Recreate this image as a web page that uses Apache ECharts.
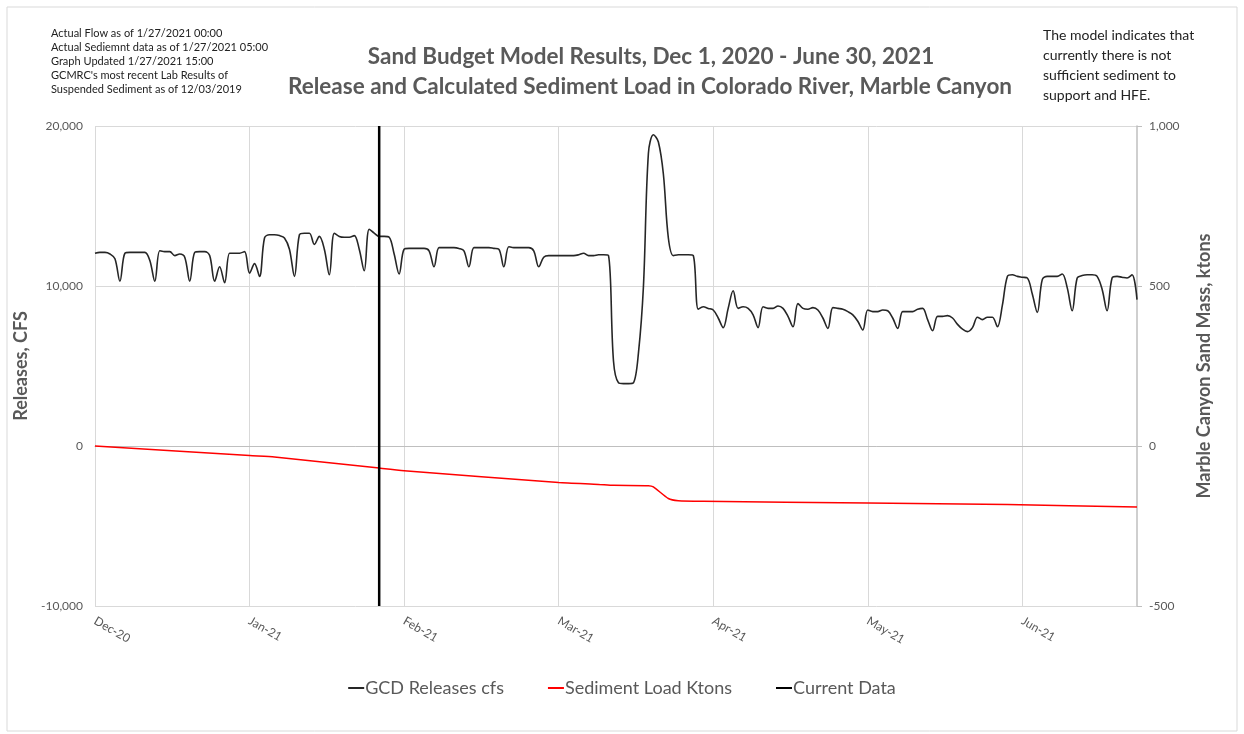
<!DOCTYPE html>
<html>
<head>
<meta charset="utf-8">
<title>Sand Budget Model Results</title>
<script src="https://cdn.jsdelivr.net/npm/echarts/dist/echarts.min.js"></script>
<style>
  html, body { margin: 0; padding: 0; background: #fff; }
  #chart { width: 1244px; height: 734px; }
</style>
</head>
<body>
<div id="chart"></div>
<script>
// daily categories, Dec 1 2020 .. Jun 28 2021
var startDay = Date.UTC(2020, 11, 1)
var dayCount = 210
var dates = []
for (var i = 0; i < dayCount; i++) {
  dates.push(new Date(startDay + i * 86400000).toISOString().slice(0, 10))
}
var monthNames = ['Jan', 'Feb', 'Mar', 'Apr', 'May', 'Jun', 'Jul', 'Aug', 'Sep', 'Oct', 'Nov', 'Dec']

// GCD releases, cfs (one value per day)
var releases = [
  12050, 12100, 12100, 12000, 11700, 10300, 12050,
  12100, 12100, 12100, 12100, 11600, 10300, 12200,
  12150, 12150, 11900, 12000, 11800, 10300, 12100,
  12150, 12150, 11900, 10300, 11200, 10200, 12050,
  12050, 12050, 12150, 10800, 11400, 10600, 13000,
  13200, 13200, 13150, 13000, 12300, 10600, 13200,
  13300, 13300, 12600, 13100, 12300, 10700, 13300,
  13100, 13050, 13050, 13150, 12300, 10950, 13550,
  13300, 13100, 13100, 13050, 12000, 10750, 12300,
  12350, 12350, 12350, 12350, 12200, 11200, 12400,
  12400, 12400, 12400, 12350, 12200, 11200, 12400,
  12400, 12400, 12400, 12350, 12300, 11200, 12450,
  12400, 12400, 12400, 12400, 12200, 11200, 11800,
  11900, 11900, 11900, 11900, 11900, 11900, 11950,
  12050, 11900, 11900, 11950, 11950, 11900, 5300,
  3950, 3900, 3900, 3950, 5800, 9950, 18300,
  19450, 19000, 17000, 13000, 11900, 11950, 11950,
  11950, 11900, 8550, 8700, 8600, 8500, 8000,
  7400, 8600, 9700, 8600, 8700, 8600, 8200,
  7400, 8700, 8600, 8600, 8750, 8600, 8100,
  7450, 8900, 8600, 8550, 8650, 8500, 8000,
  7350, 8650, 8600, 8550, 8400, 8200, 7800,
  7250, 8500, 8400, 8400, 8500, 8450, 8000,
  7350, 8400, 8400, 8400, 8550, 8600, 7900,
  7200, 8100, 8100, 8150, 8000, 7600, 7300,
  7150, 7400, 8050, 7900, 8050, 8050, 7450,
  8800, 10600, 10700, 10600, 10550, 10500, 9500,
  8350, 10400, 10600, 10600, 10600, 10750, 9900,
  8450, 10500, 10650, 10700, 10700, 10600, 9800,
  8450, 10500, 10600, 10550, 10500, 10700, 9150
]

// sediment load, ktons (right axis)
var sedimentDates = ['2020-12-01', '2021-01-01', '2021-01-06', '2021-01-27', '2021-02-01', '2021-03-04',
  '2021-03-12', '2021-03-15', '2021-03-22', '2021-03-23', '2021-03-26', '2021-03-28', '2021-04-02',
  '2021-05-05', '2021-06-02', '2021-06-28']
var sedimentValues = [0, -30, -34, -69, -77, -114, -120, -123, -124, -128, -164, -171, -173, -178, -183, -191]

// current data marker
var currentDate = '2021-01-27'
var currentRange = [-10000, 20000]

var notesLeft = [
  'Actual Flow as of 1/27/2021 00:00',
  'Actual Sediemnt data as of 1/27/2021 05:00',
  'Graph Updated 1/27/2021 15:00',
  "GCMRC's most recent Lab Results of",
  'Suspended Sediment as of 12/03/2019'
]
var notesRight = [
  'The model indicates that',
  'currently there is not',
  'sufficient sediment to',
  'support and HFE.'
]

var font = 'Lato, "Open Sans", sans-serif'
var grey = '#595959'
var gridColor = '#d9d9d9'

function monthLabel(value) {
  var m = parseInt(value.slice(5, 7), 10)
  return monthNames[m - 1] + '-' + value.slice(2, 4)
}
function showTick(index) {
  return index % 31 === 0
}
function comma(v) {
  return v.toLocaleString('en-US')
}

var chart = echarts.init(document.getElementById('chart'))

var option = {
  backgroundColor: '#fff',
  animation: false,
  textStyle: { fontFamily: font },
  grid: { left: 95, right: 107, top: 126, bottom: 128, containLabel: false },
  legend: {
    bottom: 32,
    left: 'center',
    icon: 'rect',
    itemGap: 44,
    itemWidth: 16,
    itemHeight: 2,
    textStyle: { color: grey, fontSize: 18, fontFamily: font, padding: [0, 0, 0, -4] },
    data: ['GCD Releases cfs', 'Sediment Load Ktons', 'Current Data']
  },
  graphic: [
    {
      type: 'rect',
      shape: { x: 7, y: 7, width: 1230, height: 724 },
      style: { fill: 'none', stroke: '#d9d9d9', lineWidth: 1 },
      silent: true
    },
    {
      type: 'text',
      x: 651, y: 57,
      style: {
        text: 'Sand Budget Model Results, Dec 1, 2020 - June 30, 2021',
        textAlign: 'center', textVerticalAlign: 'middle',
        font: 'bold 22.5px ' + font, fill: grey
      }
    },
    {
      type: 'text',
      x: 650, y: 87,
      style: {
        text: 'Release and Calculated Sediment Load in Colorado River, Marble Canyon',
        textAlign: 'center', textVerticalAlign: 'middle',
        font: 'bold 22.5px ' + font, fill: grey
      }
    },
    {
      type: 'text',
      x: 51, y: 26,
      style: {
        text: notesLeft.join('\n'),
        lineHeight: 14.2,
        textVerticalAlign: 'top',
        font: '11px ' + font, fill: '#222'
      }
    },
    {
      type: 'text',
      x: 1043, y: 25,
      style: {
        text: notesRight.join('\n'),
        lineHeight: 20,
        textVerticalAlign: 'top',
        font: '14px ' + font, fill: '#222'
      }
    }
  ],
  xAxis: {
    type: 'category',
    data: dates,
    boundaryGap: false,
    axisLine: { show: true, lineStyle: { color: '#bfbfbf' } },
    axisTick: { show: false },
    axisLabel: {
      interval: showTick,
      formatter: monthLabel,
      rotate: -30,
      margin: 14,
      color: grey,
      fontSize: 12,
      fontFamily: font
    },
    splitLine: { show: true, interval: showTick, lineStyle: { color: gridColor, width: 1 } }
  },
  yAxis: [
    {
      type: 'value',
      position: 'left',
      min: -10000,
      max: 20000,
      interval: 10000,
      axisLine: { show: false },
      axisTick: { show: false },
      axisLabel: { formatter: comma, color: grey, fontSize: 12, margin: 12, fontFamily: font },
      splitLine: { show: true, lineStyle: { color: gridColor, width: 1 } },
      name: 'Releases, CFS',
      nameLocation: 'middle',
      nameRotate: 90,
      nameGap: 60,
      nameTextStyle: { color: grey, fontSize: 18, fontWeight: 'bold', fontFamily: font }
    },
    {
      type: 'value',
      position: 'right',
      min: -500,
      max: 1000,
      interval: 500,
      axisLine: { show: true, lineStyle: { color: '#bfbfbf', width: 1.5 } },
      axisTick: { show: true, inside: false, length: 5, lineStyle: { color: '#bfbfbf' } },
      axisLabel: { formatter: comma, color: grey, fontSize: 12, margin: 12, fontFamily: font },
      splitLine: { show: false },
      name: 'Marble Canyon Sand Mass, ktons',
      nameLocation: 'middle',
      nameRotate: 90,
      nameGap: 58,
      nameTextStyle: { color: grey, fontSize: 18, fontWeight: 'bold', fontFamily: font }
    }
  ],
  series: [
    {
      name: 'GCD Releases cfs',
      type: 'line',
      yAxisIndex: 0,
      data: releases,
      smooth: 0.35,
      symbol: 'none',
      color: '#262626',
      lineStyle: { color: '#262626', width: 1.6 },
      z: 3
    },
    {
      name: 'Sediment Load Ktons',
      type: 'line',
      yAxisIndex: 1,
      data: sedimentDates.map(function (d, i) { return [d, sedimentValues[i]] }),
      smooth: 0.2,
      symbol: 'none',
      color: '#ff0000',
      lineStyle: { color: '#ff0000', width: 1.5 },
      z: 3
    },
    {
      name: 'Current Data',
      type: 'line',
      yAxisIndex: 0,
      data: currentRange.map(function (v) { return [currentDate, v] }),
      symbol: 'none',
      color: '#000',
      lineStyle: { color: '#000', width: 2.5 },
      z: 4
    }
  ]
}

chart.setOption(option)
</script>
</body>
</html>
